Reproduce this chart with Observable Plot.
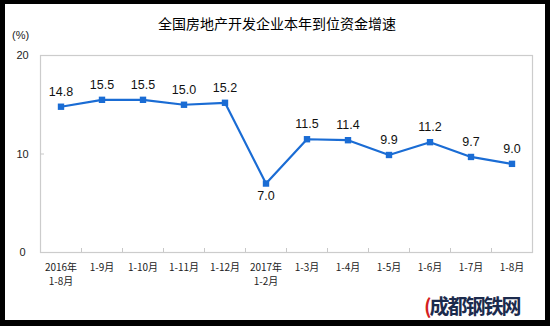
<!DOCTYPE html>
<html>
<head>
<meta charset="utf-8">
<script src="https://cdn.jsdelivr.net/npm/d3@7"></script>
<script src="https://cdn.jsdelivr.net/npm/@observablehq/plot@0.6"></script>
<style>
  html, body { margin: 0; padding: 0; background: #000; }
  #wrap { position: relative; width: 550px; height: 326px; background: #000; overflow: hidden; }
  #paper { position: absolute; left: 5px; top: 4px; width: 540px; height: 316px; background: #fff; }
  #chart { position: absolute; left: 0; top: 0; }
  #title { position: absolute; left: 0; width: 554px; top: 14px; text-align: center;
           font: 14px "Noto Sans CJK SC", sans-serif; color: #000; line-height: 18px; }
  #unit { position: absolute; left: 12px; top: 29px; font: 11px "Liberation Sans", sans-serif; color: #222; }
  #mark { position: absolute; left: 424px; top: 293px; font: bold 20px "Noto Sans CJK SC", sans-serif;
          color: #1c2b4d; letter-spacing: -2px; line-height: 26px; }
  #mark span { color: #d42020; }
</style>
</head>
<body>
<div id="wrap">
  <div id="paper"></div>
  <div id="title">全国房地产开发企业本年到位资金增速</div>
  <div id="unit">(%)</div>
  <div id="chart"></div>
  <div id="mark"><span>(</span>成都钢铁网</div>
</div>
<script>
const categories = ["2016年\n1-8月", "1-9月", "1-10月", "1-11月", "1-12月", "2017年\n1-2月",
                    "1-3月", "1-4月", "1-5月", "1-6月", "1-7月", "1-8月"];
const values = [14.8, 15.5, 15.5, 15.0, 15.2, 7.0, 11.5, 11.4, 9.9, 11.2, 9.7, 9.0];
const yTicks = [0, 10, 20];

const data = categories.map((c, i) => ({ i, label: c, v: values[i] }));
const idx = data.map(d => d.i);
const boundaries = idx.slice(1).map(i => i - 0.5);
const low = d => d.v === d3.min(values);
const blue = "#1a6cd4";

const chart = Plot.plot({
  width: 550,
  height: 326,
  marginLeft: 40,
  marginRight: 18,
  marginTop: 55,
  marginBottom: 74,
  style: { background: "transparent", fontFamily: "Liberation Sans, sans-serif" },
  x: { type: "linear", domain: [-0.5, categories.length - 0.5] },
  y: { domain: [0, 20] },
  marks: [
    Plot.frame({ stroke: "#cccccc", strokeWidth: 1.2 }),
    Plot.axisY({ ticks: yTicks, tickSize: 0, tickPadding: 18, textAnchor: "middle",
                 fontSize: 11, fill: "#222", label: null }),
    Plot.axisY({ ticks: [10], tickSize: -4, text: null, stroke: "#c8c8c8", label: null }),
    Plot.axisX({ ticks: idx, tickSize: 0, tickPadding: 9, tickFormat: i => categories[i],
                 fontSize: 10, lineHeight: 1.4, fill: "#222", label: null,
                 fontFamily: "Noto Sans CJK SC, sans-serif" }),
    Plot.axisX({ ticks: boundaries, tickSize: -4, text: null, stroke: "#c8c8c8", label: null }),
    Plot.line(data, { x: "i", y: "v", stroke: blue, strokeWidth: 2.2 }),
    Plot.dot(data, { x: "i", y: "v", symbol: "square", r: 3.6, fill: blue, stroke: null }),
    Plot.text(data.filter(d => !low(d)), { x: "i", y: "v", text: d => d.v.toFixed(1), fontSize: 12.5,
                      fill: "#111", lineAnchor: "bottom", dy: -11 }),
    Plot.text(data.filter(low), { x: "i", y: "v", text: d => d.v.toFixed(1), fontSize: 12.5,
                      fill: "#111", lineAnchor: "top", dy: 8 })
  ]
});
document.getElementById("chart").appendChild(chart);
</script>
</body>
</html>
